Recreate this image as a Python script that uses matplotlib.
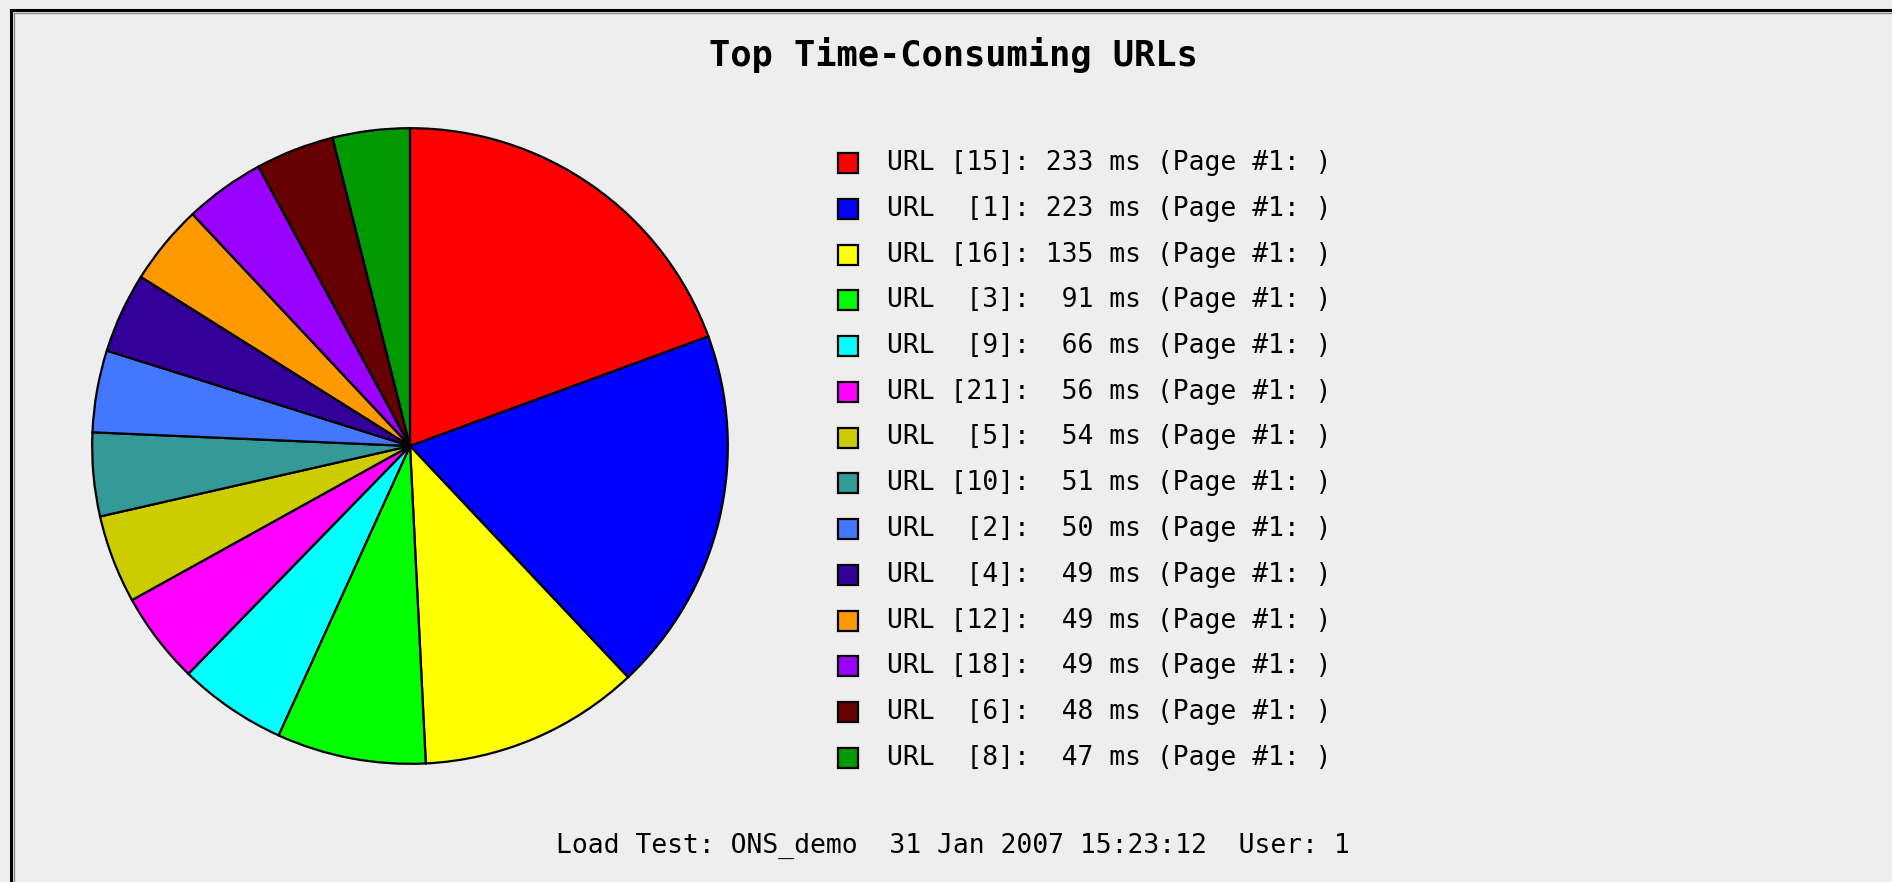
import matplotlib
matplotlib.use('Agg')
import matplotlib.pyplot as plt
import matplotlib.patches as mpatches
from matplotlib.lines import Line2D

# ── data ──────────────────────────────────────────────────────────────────────
url_ids   = [15, 1, 16, 3, 9, 21, 5, 10, 2, 4, 12, 18, 6, 8]
times_ms  = [233, 223, 135, 91, 66, 56, 54, 51, 50, 49, 49, 49, 48, 47]
colors    = ['#ff0000', '#0000ff', '#ffff00', '#00ff00', '#00ffff', '#ff00ff',
             '#cccc00', '#339999', '#4477ff', '#330099', '#ff9900', '#9900ff',
             '#660000', '#009900']
title     = 'Top Time-Consuming URLs'
footer    = 'Load Test: ONS_demo  31 Jan 2007 15:23:12  User: 1'

W, H = 1892, 882
BG = '#eeeeee'
MONO = 'DejaVu Sans Mono'

fig = plt.figure(figsize=(W / 100, H / 100), dpi=100, facecolor=BG)

# frame (only top and left edges are visible in the original crop)
fig.add_artist(Line2D([11 / W, 11 / W], [0, 1 - 10 / H], transform=fig.transFigure,
                      color='black', lw=2.2))
fig.add_artist(Line2D([11 / W, 1], [1 - 10 / H, 1 - 10 / H], transform=fig.transFigure,
                      color='black', lw=2.2))
fig.add_artist(Line2D([13.5 / W, 13.5 / W], [0, 1 - 12.5 / H], transform=fig.transFigure,
                      color='#888888', lw=1))
fig.add_artist(Line2D([13.5 / W, 1], [1 - 12.5 / H, 1 - 12.5 / H], transform=fig.transFigure,
                      color='#888888', lw=1))

# ── pie ───────────────────────────────────────────────────────────────────────
cx, cy, r = 410, 882 - 446, 321
ax = fig.add_axes([(cx - r) / W, (cy - r) / H, 2 * r / W, 2 * r / H])
ax.pie(times_ms, colors=colors, startangle=90, counterclock=False, radius=1,
       wedgeprops=dict(edgecolor='black', linewidth=1.6))
ax.set_xlim(-1.01, 1.01)
ax.set_ylim(-1.01, 1.01)
ax.set_aspect('equal')
ax.axis('off')

# ── title / footer ────────────────────────────────────────────────────────────
fig.text(953 / W, 1 - 55 / H, title, ha='center', va='center',
         fontsize=25.5, fontweight='bold', family=MONO, color='black')
fig.text(953 / W, 1 - 846 / H, footer, ha='center', va='center',
         fontsize=19, family=MONO, color='black')

# ── legend ────────────────────────────────────────────────────────────────────
y0, dy = 163, 45.75
sq = 20
for i, (uid, t, c) in enumerate(zip(url_ids, times_ms, colors)):
    y = y0 + i * dy
    fig.add_artist(mpatches.Rectangle(((848 - sq / 2) / W, 1 - (y + sq / 2) / H),
                                      sq / W, sq / H, transform=fig.transFigure,
                                      facecolor=c, edgecolor='black', lw=1.6))
    label = f'URL {"[" + str(uid) + "]:":>5} {t:>3} ms (Page #1: )'
    fig.text(887 / W, 1 - y / H, label, ha='left', va='center',
             fontsize=19, family=MONO, color='black')

fig.savefig('out.png', dpi=100, facecolor=BG)
